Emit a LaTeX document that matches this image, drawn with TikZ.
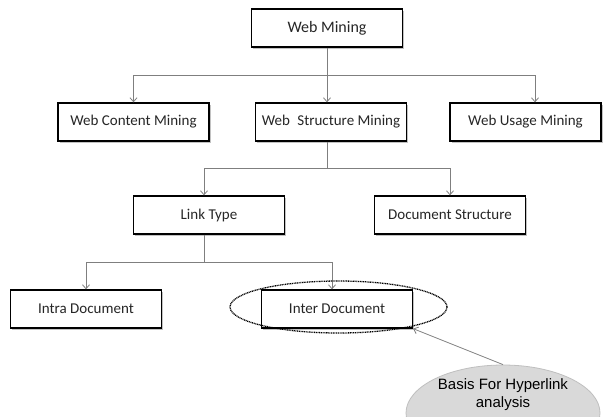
\documentclass[tikz,border=0pt]{standalone}
\usepackage{fontspec}
\setmainfont{Carlito}
\newfontfamily\arialfont{Liberation Sans}
\usetikzlibrary{arrows.meta,shapes.geometric,shadows}
\definecolor{textgray}{HTML}{262626}
\definecolor{linegray}{HTML}{7F7F7F}
\definecolor{ellfill}{HTML}{D9D9D9}
\definecolor{elldraw}{HTML}{BFBFBF}
\begin{document}
\begin{tikzpicture}[x=1pt,y=-1pt,
  box/.style={draw=black,line width=1.3pt,fill=white,minimum width=151pt,minimum height=38pt,inner sep=0pt,
    font=\fontsize{15}{18}\selectfont,text=textgray,
    drop shadow={shadow xshift=1.5pt,shadow yshift=-1.5pt,fill=black!40,opacity=0.6}},
  conn/.style={draw=linegray,line width=0.8pt},
  arr/.style={conn,-{Straight Barb[length=4pt,width=7pt]}}]
\useasboundingbox (0,0) rectangle (606,416);
\clip (0,0) rectangle (606,416);
% nodes
\node[box,font=\fontsize{16}{19}\selectfont] (wm) at (327,28) {Web Mining};
\node[box] (wcm) at (133.5,122) {Web Content Mining};
\node[box] (wsm) at (331,122) {Web\hspace{0.5em}Structure Mining};
\node[box] (wum) at (525.5,122) {Web Usage Mining};
\node[box] (lt) at (209,215) {Link Type};
\node[box] (ds) at (450,215) {Document Structure};
\node[box] (id) at (86,309) {Intra Document};
\node[box] (ind) at (337,309) {Inter Document};
% coordinates for branching
\coordinate (b1) at (327,75);
\coordinate (b2) at (327,168);
\coordinate (b3) at (204,262);
% connectors
\draw[conn] (wm.south) -- (b1);
\draw[arr] (b1) -| (wcm.north);
\draw[arr] (b1) -- (wsm.north -| b1);
\draw[arr] (b1) -| ([xshift=9.5pt]wum.north);
\draw[conn] (wsm.south -| b2) -- (b2);
\draw[arr] (b2) -| ([xshift=-5pt]lt.north);
\draw[arr] (b2) -| (ds.north);
\draw[conn] (lt.south -| b3) -- (b3);
\draw[arr] (b3) -| (id.north);
\draw[arr] (b3) -| ([xshift=-5pt]ind.north);
% highlight ellipse
\node[ellipse,draw=black,line width=1.3pt,dash pattern=on 1pt off 0.7pt,minimum width=217pt,minimum height=52pt,inner sep=0pt] (hl) at (338.5,307) {};
% callout ellipse
\node[ellipse,draw=elldraw,fill=ellfill,line width=0.8pt,minimum width=194pt,minimum height=96pt,inner sep=0pt,
  label={[font=\arialfont\fontsize{15}{18}\selectfont,align=center,text=black,yshift=18pt]center:Basis For Hyperlink\\analysis}] (hyp) at (503,413) {};
\draw[arr] (hyp.north) -- (ind.south east);
\end{tikzpicture}
\end{document}
